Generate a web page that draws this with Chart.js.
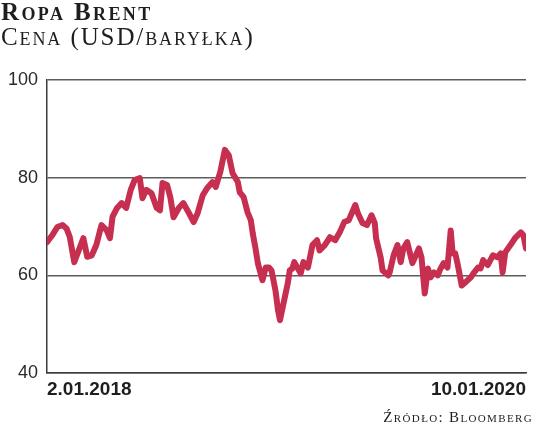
<!DOCTYPE html>
<html lang="pl">
<head>
<meta charset="utf-8">
<title>Ropa Brent</title>
<script src="https://cdn.jsdelivr.net/npm/chart.js@4.4.1/dist/chart.umd.min.js"></script>
<style>
    html, body {
        margin: 0;
        padding: 0;
        background: #ffffff;
    }
    #wrap {
        position: relative;
        width: 536px;
        height: 429px;
        overflow: hidden;
    }
    #brentChart {
        position: absolute;
        left: 0;
        top: 0;
    }
    .head {
        position: absolute;
        left: 1px;
        font-family: "Liberation Serif", "DejaVu Serif", serif;
        font-variant: small-caps;
        color: #1e1e1e;
        white-space: nowrap;
        line-height: 1;
    }
    #title { top: -1px; font-size: 25px; font-weight: bold; letter-spacing: 2.4px; }
    #subtitle { top: 24px; font-size: 25px; letter-spacing: 1.9px; }
    #source {
        position: absolute;
        right: 3px;
        top: 410px;
        font-family: "Liberation Serif", "DejaVu Serif", serif;
        font-variant: small-caps;
        font-size: 15px;
        letter-spacing: 1.35px;
        color: #1e1e1e;
        white-space: nowrap;
        line-height: 1;
    }
</style>
</head>
<body>
<div id="wrap">
    <canvas id="brentChart" width="536" height="429"></canvas>
    <div id="title" class="head">Ropa Brent</div>
    <div id="subtitle" class="head">Cena (USD/baryłka)</div>
    <div id="source">Źródło: Bloomberg</div>
</div>
<script>
// Brent price, USD per barrel
const dates = [
    '2018-01-02', '2018-01-10', '2018-01-18', '2018-01-26', '2018-02-01', '2018-02-06', '2018-02-13', '2018-02-21', '2018-02-27', '2018-03-05',
    '2018-03-12', '2018-03-19', '2018-03-27', '2018-04-04', '2018-04-09', '2018-04-13', '2018-04-20', '2018-04-27', '2018-05-04', '2018-05-11',
    '2018-05-17', '2018-05-25', '2018-05-29', '2018-06-04', '2018-06-12', '2018-06-20', '2018-06-25', '2018-06-29', '2018-07-06', '2018-07-11',
    '2018-07-16', '2018-07-24', '2018-07-31', '2018-08-08', '2018-08-16', '2018-08-22', '2018-08-30', '2018-09-06', '2018-09-14', '2018-09-19',
    '2018-09-26', '2018-10-03', '2018-10-09', '2018-10-15', '2018-10-23', '2018-10-26', '2018-11-01', '2018-11-07', '2018-11-12', '2018-11-15',
    '2018-11-19', '2018-11-23', '2018-11-30', '2018-12-05', '2018-12-10', '2018-12-14', '2018-12-20', '2018-12-24', '2018-12-27', '2018-12-31',
    '2019-01-08', '2019-01-11', '2019-01-15', '2019-01-18', '2019-01-28', '2019-02-01', '2019-02-08', '2019-02-15', '2019-02-22', '2019-02-26',
    '2019-03-06', '2019-03-14', '2019-03-22', '2019-03-29', '2019-04-05', '2019-04-12', '2019-04-22', '2019-04-26', '2019-05-03', '2019-05-10',
    '2019-05-17', '2019-05-22', '2019-05-24', '2019-05-31', '2019-06-03', '2019-06-12', '2019-06-14', '2019-06-20', '2019-06-26', '2019-07-01',
    '2019-07-05', '2019-07-11', '2019-07-16', '2019-07-19', '2019-07-29', '2019-08-02', '2019-08-07', '2019-08-12', '2019-08-16', '2019-08-21',
    '2019-08-27', '2019-08-30', '2019-09-05', '2019-09-11', '2019-09-16', '2019-09-19', '2019-09-23', '2019-09-27', '2019-10-03', '2019-10-09',
    '2019-10-17', '2019-10-21', '2019-10-28', '2019-11-01', '2019-11-05', '2019-11-12', '2019-11-20', '2019-11-27', '2019-12-02', '2019-12-05',
    '2019-12-09', '2019-12-17', '2019-12-24', '2020-01-02', '2020-01-06', '2020-01-10'
];

const prices = [
    66.8, 68.2, 69.9, 70.3, 69.6, 67.9, 62.7, 65.5, 67.6, 63.8,
    64.1, 66.2, 70.3, 69.2, 67.6, 72.0, 73.8, 74.8, 73.8, 77.5,
    79.5, 79.9, 75.8, 77.5, 76.8, 73.8, 73.3, 78.9, 78.5, 76.0,
    71.9, 73.8, 74.8, 72.9, 70.9, 72.7, 76.4, 77.9, 79.1, 78.1,
    81.2, 85.7, 84.6, 80.9, 79.1, 77.0, 76.0, 72.9, 71.3, 68.6,
    65.7, 62.4, 59.0, 61.6, 61.6, 61.0, 56.9, 52.8, 50.8, 53.4,
    58.4, 61.0, 61.4, 62.7, 60.4, 62.7, 61.6, 66.2, 67.2, 65.1,
    66.2, 67.8, 67.2, 68.8, 70.9, 71.3, 74.4, 72.7, 70.7, 70.3,
    72.3, 70.7, 67.6, 63.7, 61.0, 60.0, 60.6, 64.1, 66.2, 62.7,
    65.5, 66.8, 64.1, 62.5, 65.5, 63.7, 56.3, 61.4, 59.6, 60.6,
    60.0, 61.0, 62.5, 61.6, 69.2, 64.5, 64.5, 62.1, 57.9, 58.6,
    59.6, 60.4, 61.6, 61.4, 63.1, 62.1, 64.1, 63.7, 64.5, 60.6,
    64.7, 66.2, 67.6, 68.8, 68.2, 65.5
];

const yTicks = [40, 60, 80, 100];

const DAY = 24 * 60 * 60 * 1000;
const startTime = Date.parse(dates[0] + 'T00:00:00Z');

function dayOffset(iso) {
    return Math.round((Date.parse(iso + 'T00:00:00Z') - startTime) / DAY);
}

// "2018-01-02" -> "2.01.2018"
function plDate(iso) {
    const [y, m, d] = iso.split('-');
    return `${parseInt(d, 10)}.${m}.${y}`;
}

const points = dates.map((d, i) => ({ x: dayOffset(d), y: prices[i] }));
const lastDay = dayOffset(dates[dates.length - 1]);

new Chart(document.getElementById('brentChart'), {
    type: 'line',
    data: {
        datasets: [{
            data: points,
            borderColor: '#c72f50',
            borderWidth: 6,
            borderJoinStyle: 'round',
            borderCapStyle: 'round',
            pointRadius: 0,
            tension: 0,
            fill: false
        }]
    },
    options: {
        responsive: false,
        animation: false,
        events: [],
        layout: {
            padding: { top: 80, right: 10, bottom: 24, left: 0 }
        },
        plugins: {
            legend: { display: false },
            tooltip: { enabled: false },
            title: { display: false }
        },
        scales: {
            x: {
                type: 'linear',
                min: 0,
                max: lastDay,
                afterBuildTicks: scale => {
                    scale.ticks = [{ value: 0 }, { value: lastDay }];
                },
                afterFit: scale => {
                    scale.height = 32;
                },
                grid: { display: false, drawTicks: false },
                border: { display: true, color: '#3c3c3c', width: 1.5 },
                ticks: {
                    align: 'inner',
                    maxRotation: 0,
                    autoSkip: false,
                    padding: 5,
                    color: '#1e1e1e',
                    font: { family: '"Liberation Sans", Arial, sans-serif', size: 19, weight: 'bold' },
                    callback: value => value === 0 ? plDate(dates[0]) : plDate(dates[dates.length - 1])
                }
            },
            y: {
                min: 40,
                max: 100,
                afterBuildTicks: scale => {
                    scale.ticks = yTicks.map(v => ({ value: v }));
                },
                afterFit: scale => {
                    scale.width = 47;
                },
                grid: {
                    color: '#5c5c5c',
                    lineWidth: 1.5,
                    drawTicks: false
                },
                border: { display: true, color: '#3c3c3c', width: 1.5 },
                ticks: {
                    padding: 9,
                    color: '#2a2a2a',
                    font: { family: '"Liberation Sans", Arial, sans-serif', size: 18 }
                }
            }
        }
    }
});
</script>
</body>
</html>
